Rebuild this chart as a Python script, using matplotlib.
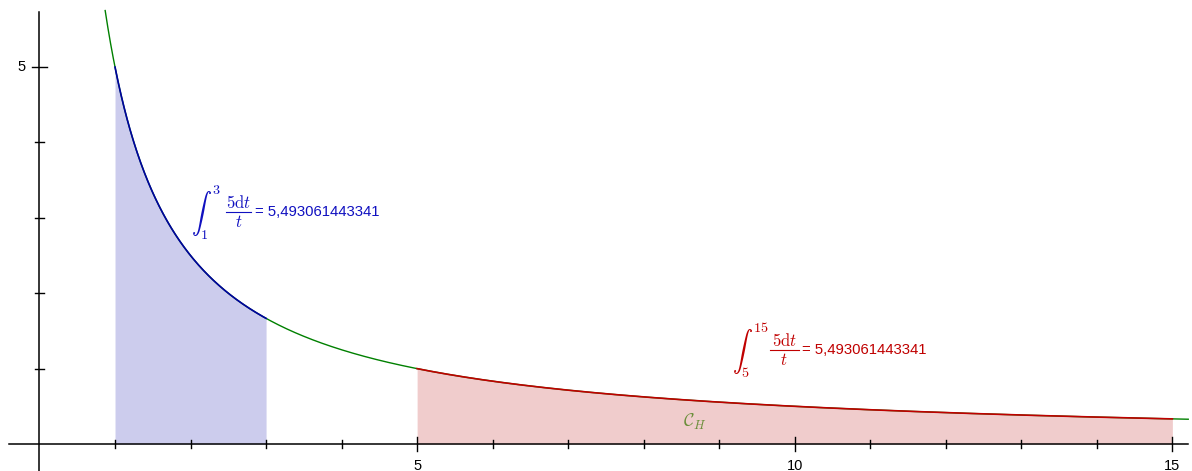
import numpy as np
import matplotlib
matplotlib.use('Agg')
import matplotlib.pyplot as plt

plt.rcParams['font.family'] = ['Liberation Sans', 'DejaVu Sans']
plt.rcParams['mathtext.fontset'] = 'cm'

# hyperbola y = k / x and the two areas under it
k = 5
blue_bounds = [1, 3]
red_bounds = [5, 15]
area_value = '5,493061443341'
x_ticks_major = [5, 10, 15]
y_ticks_major = [5]

xmin, xmax = -0.523, 15.26
ymin, ymax = -0.358, 5.89

fig = plt.figure(figsize=(11.92, 4.71), dpi=100)
ax = fig.add_axes([0, 0, 1, 1])
ax.set_xlim(xmin, xmax)
ax.set_ylim(ymin, ymax)
ax.axis('off')

# axes through the origin
ax.plot([-0.4, 15.21], [0, 0], color='black', lw=1.1, zorder=5)
ax.plot([0, 0], [ymin, 5.73], color='black', lw=1.1, zorder=5)

for t in range(1, 16):
    h = 0.093 if t in x_ticks_major else 0.053
    ax.plot([t, t], [-h, h], color='black', lw=1, zorder=5)
for t in x_ticks_major:
    ax.text(t, -0.2, str(t), ha='center', va='top', fontsize=10.5)
for t in range(1, 6):
    h = 0.093 if t in y_ticks_major else 0.053
    ax.plot([-h, h], [t, t], color='black', lw=1, zorder=5)
for t in y_ticks_major:
    ax.text(-0.18, t, str(t), ha='right', va='center', fontsize=10.5)

# the curve
xs = np.linspace(k / 5.75, 15.21, 800)
ax.plot(xs, k / xs, color='#008000', lw=1, zorder=3)

# shaded regions
a, b = blue_bounds
xb = np.linspace(a, b, 300)
ax.fill_between(xb, 0, k / xb, color='#cccced', lw=0, zorder=1)
ax.plot(xb, k / xb, color='#0000a0', lw=1.2, zorder=4)

a, b = red_bounds
xr = np.linspace(a, b, 300)
ax.fill_between(xr, 0, k / xr, color='#f0cccc', lw=0, zorder=1)
ax.plot(xr, k / xr, color='#c00000', lw=1.2, zorder=4)


def integral_label(bounds, x0, y0, frac_x, frac_w, eq_x, color):
    # integral sign with limits, a built-up fraction, then the value
    ax.text(x0, y0 - 0.01, r'$\int_{%d}^{%d}$' % (bounds[0], bounds[1]),
            color=color, fontsize=14.5, ha='left', va='center')
    ax.text(frac_x, y0 + 0.125, r'$5\mathrm{d}t$', color=color,
            fontsize=12, ha='center', va='center')
    ax.plot([frac_x - frac_w / 2, frac_x + frac_w / 2], [y0, y0],
            color=color, lw=0.8)
    ax.text(frac_x, y0 - 0.13, r'$t$', color=color,
            fontsize=12, ha='center', va='center')
    ax.text(eq_x, y0, '= ' + area_value, color=color,
            fontsize=10.7, ha='left', va='center')


integral_label(blue_bounds, 2.0, 3.077, 2.64, 0.33, 2.86, '#1010c0')
integral_label(red_bounds, 9.17, 1.25, 9.86, 0.38, 10.1, '#c00000')

ax.text(8.68, 0.29, r'$\mathcal{C}_H$', color='#6b8e3a', fontsize=13,
        ha='center', va='center')

fig.savefig('out.png', dpi=100)
